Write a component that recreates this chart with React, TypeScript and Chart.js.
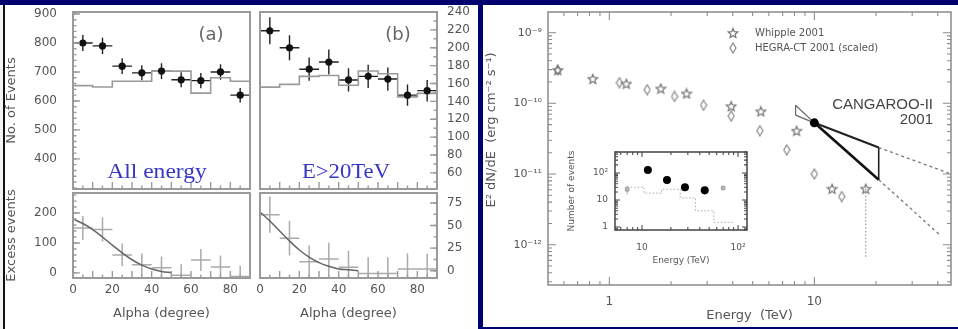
import React, { useEffect, useRef } from 'react';
import { Chart, registerables } from 'chart.js';

Chart.register(...registerables);

const NAVY = '#00006e';
const SANS = "'DejaVu Sans', sans-serif";
const ARIAL = "'Liberation Sans', sans-serif";
const SERIF = "'Liberation Serif', serif";

// ---------------- Left figure: alpha distributions ----------------
const ALPHA_CENTERS = [5, 15, 25, 35, 45, 55, 65, 75, 85];
const ALPHA_HALF_BIN = [5, 5, 5, 5, 5, 5, 5, 5, 5];
const ALPHA_EDGES = [0, 10, 20, 30, 40, 50, 60, 70, 80, 90];
const ALPHA_TICKS = [0, 20, 40, 60, 80];

// (a) All energy
const A_ON = [800, 790, 720, 697, 703, 673, 670, 700, 620];
const A_ON_ERR = [28, 28, 27, 26, 27, 26, 26, 27, 25];
const A_OFF = [653, 648, 668, 668, 703, 703, 627, 680, 668];
const A_EXCESS = [150, 145, 60, 27, 17, -8, 43, 20, -12];
const A_EXCESS_ERR = [40, 40, 38, 38, 38, 37, 37, 38, 36];
const A_FIT_X = [0, 5, 10, 15, 20, 25, 30, 35, 40, 45, 50];
const A_FIT_Y = [180, 165, 145, 120, 93, 67, 44, 26, 13, 5, 1];
const A_UP_TICKS = [400, 500, 600, 700, 800, 900];
const A_LOW_TICKS = [0, 100, 200];

// (b) E > 20 TeV
const B_ON = [219, 200, 176, 184, 164, 168, 165, 147, 152];
const B_ON_ERR = [15, 14, 13, 14, 13, 13, 13, 12, 12];
const B_OFF = [156, 159, 168, 169, 158, 174, 171, 145, 149];
const B_EXCESS = [62, 36, 10, 13, 4, -3, -3, 2, 2];
const B_EXCESS_ERR = [20, 19, 18, 18, 18, 18, 18, 17, 17];
const B_FIT_X = [0, 5, 10, 15, 20, 25, 30, 35, 40, 45, 50];
const B_FIT_Y = [65, 55, 44, 33, 23, 15, 9, 5, 2, 1, 0];
const B_UP_TICKS = [60, 80, 100, 120, 140, 160, 180, 200, 220, 240];
const B_LOW_TICKS = [0, 25, 50, 75];

// ---------------- Right figure: spectrum ----------------
const WHIPPLE_E = [0.56, 0.83, 1.21, 1.78, 2.38, 3.93, 5.48, 8.19, 12.2, 17.8];
const WHIPPLE_F = [2.96e-10, 2.22e-10, 1.9e-10, 1.62e-10, 1.38e-10, 9.1e-11, 7.7e-11, 4.1e-11, 6.2e-12, 6.2e-12];
const HEGRA_E = [0.56, 1.12, 1.53, 2.08, 2.88, 3.93, 5.42, 7.33, 10.0, 13.6];
const HEGRA_F = [2.96e-10, 1.96e-10, 1.56e-10, 1.25e-10, 9.4e-11, 6.6e-11, 4.1e-11, 2.2e-11, 1.0e-11, 4.8e-12];
const UPPER_LIMIT_E = [17.8, 17.8];
const UPPER_LIMIT_F = [6.2e-12, 6.6e-13];
const CANGAROO_E = [10];
const CANGAROO_F = [5.3e-11];
const BOW_E = [8.1, 10, 20.6];
const BOW_STEEP_F = [9.4e-11, 5.3e-11, 8.3e-12];
const BOW_FLAT_F = [6.8e-11, 5.3e-11, 2.37e-11];
const EXT_STEEP_E = [20.6, 41.5];
const EXT_STEEP_F = [8.3e-12, 1.33e-12];
const EXT_FLAT_E = [20.6, 46.4];
const EXT_FLAT_F = [2.37e-11, 1.0e-11];
const MAIN_X_TICKS = [1, 10];
const MAIN_X_LABELS = ['1', '10'];
const MAIN_Y_TICKS = [1e-12, 1e-11, 1e-10, 1e-9];
const MAIN_Y_LABELS = ['10⁻¹²', '10⁻¹¹', '10⁻¹⁰', '10⁻⁹'];

// inset: number of events vs energy
const INSET_E = [11.5, 18.2, 28, 45];
const INSET_N = [129, 55, 30, 23];
const INSET_ERR = [25, 12, 8, 7];
const INSET_GRAY_E = [7, 70];
const INSET_GRAY_N = [25, 28];
const INSET_GRAY_ERR = [9, 0];
const INSET_HIST_E = [7, 10.5, 16, 25, 36, 56, 90];
const INSET_HIST_N = [30, 18, 25, 12, 4, 1.5];
const INSET_X_TICKS = [10, 100];
const INSET_X_LABELS = ['10', '10²'];
const INSET_Y_TICKS = [1, 10, 100];
const INSET_Y_LABELS = ['1', '10', '10²'];

// ---------------- helpers ----------------
const pts = (xs: number[], ys: number[]) => xs.map((x, i) => ({ x, y: ys[i] }));
const steps = (edges: number[], vals: number[]) =>
  edges.map((x, i) => ({ x, y: vals[Math.min(i, vals.length - 1)] }));
function range(a: number, b: number, s: number) {
  const out: number[] = [];
  for (let v = a; v <= b + 1e-9; v += s) out.push(+v.toFixed(6));
  return out;
}
function logTicks(min: number, max: number) {
  const major: number[] = [];
  const minor: number[] = [];
  for (let d = Math.floor(Math.log10(min)); d <= Math.ceil(Math.log10(max)); d++) {
    for (let k = 1; k < 10; k++) {
      const v = k * Math.pow(10, d);
      if (v < min || v > max) continue;
      (k === 1 ? major : minor).push(v);
    }
  }
  return { major, minor };
}
const noPad = (s: any) => {
  s.paddingTop = 0;
  s.paddingBottom = 0;
  s.paddingLeft = 0;
  s.paddingRight = 0;
};
const fixW = (w: number) => (s: any) => { s.width = w; noPad(s); };
const fixH = (h: number) => (s: any) => { s.height = h; noPad(s); };

function makeStar(size: number, color: string) {
  const c = document.createElement('canvas');
  c.width = size;
  c.height = size;
  const g = c.getContext('2d')!;
  g.strokeStyle = color;
  g.lineWidth = 1.2;
  g.beginPath();
  const R = size / 2 - 1;
  for (let k = 0; k < 10; k++) {
    const r = k % 2 === 0 ? R : R * 0.45;
    const a = -Math.PI / 2 + (k * Math.PI) / 5;
    const px = size / 2 + r * Math.cos(a);
    const py = size / 2 + 0.5 + r * Math.sin(a);
    if (k === 0) g.moveTo(px, py);
    else g.lineTo(px, py);
  }
  g.closePath();
  g.stroke();
  return c;
}
function makeDiamond(w: number, h: number, color: string) {
  const c = document.createElement('canvas');
  c.width = w;
  c.height = h;
  const g = c.getContext('2d')!;
  g.strokeStyle = color;
  g.lineWidth = 1.2;
  g.beginPath();
  g.moveTo(w / 2, 1);
  g.lineTo(w - 1, h / 2);
  g.lineTo(w / 2, h - 1);
  g.lineTo(1, h / 2);
  g.closePath();
  g.stroke();
  return c;
}

// ---------------- plugins ----------------
const errorBarPlugin = {
  id: 'errbars',
  beforeDatasetsDraw(chart: any) {
    const { ctx, chartArea: a } = chart;
    chart.data.datasets.forEach((ds: any, i: number) => {
      if (!ds.errX && !ds.errY) return;
      const meta = chart.getDatasetMeta(i);
      const xs = chart.scales[meta.xAxisID];
      const ys = chart.scales[meta.yAxisID];
      ctx.save();
      ctx.beginPath();
      ctx.rect(a.left, a.top, a.right - a.left, a.bottom - a.top);
      ctx.clip();
      ctx.strokeStyle = ds.errColor || '#000';
      ctx.lineWidth = ds.errWidth || 1;
      ctx.beginPath();
      ds.data.forEach((p: any, j: number) => {
        const cx = xs.getPixelForValue(p.x);
        const cy = ys.getPixelForValue(p.y);
        if (ds.errX && ds.errX[j]) {
          ctx.moveTo(xs.getPixelForValue(p.x - ds.errX[j]), cy);
          ctx.lineTo(xs.getPixelForValue(p.x + ds.errX[j]), cy);
        }
        if (ds.errY && ds.errY[j]) {
          const lo = Math.max(p.y - ds.errY[j], ys.min > 0 ? ys.min : -Infinity);
          ctx.moveTo(cx, ys.getPixelForValue(lo));
          ctx.lineTo(cx, ys.getPixelForValue(p.y + ds.errY[j]));
        }
      });
      ctx.stroke();
      ctx.restore();
    });
  },
};

interface AxisTicks {
  major: number[];
  minor: number[];
  sides: string[];
}
function framePlugin(color: string, width: number, xt: AxisTicks | null, yt: AxisTicks | null, majorLen = 7, minorLen = 3.5) {
  return {
    id: 'frame',
    afterDatasetsDraw(chart: any) {
      const { ctx, chartArea: a } = chart;
      const xs = chart.scales.x;
      const ys = chart.scales.y;
      ctx.save();
      ctx.strokeStyle = color;
      ctx.lineWidth = Math.max(1, width * 0.7);
      const tick = (vals: number[], len: number, isX: boolean, sides: string[]) => {
        ctx.beginPath();
        vals.forEach((v) => {
          const p = (isX ? xs : ys).getPixelForValue(v);
          if (isX ? p < a.left - 0.5 || p > a.right + 0.5 : p < a.top - 0.5 || p > a.bottom + 0.5) return;
          sides.forEach((side) => {
            if (side === 'bottom') { ctx.moveTo(p, a.bottom); ctx.lineTo(p, a.bottom - len); }
            if (side === 'top') { ctx.moveTo(p, a.top); ctx.lineTo(p, a.top + len); }
            if (side === 'left') { ctx.moveTo(a.left, p); ctx.lineTo(a.left + len, p); }
            if (side === 'right') { ctx.moveTo(a.right, p); ctx.lineTo(a.right - len, p); }
          });
        });
        ctx.stroke();
      };
      if (xt) { tick(xt.major, majorLen, true, xt.sides); tick(xt.minor, minorLen, true, xt.sides); }
      if (yt) { tick(yt.major, majorLen, false, yt.sides); tick(yt.minor, minorLen, false, yt.sides); }
      ctx.lineWidth = width;
      ctx.strokeRect(a.left, a.top, a.right - a.left, a.bottom - a.top);
      ctx.restore();
    },
  };
}

interface TextItem {
  text: string;
  x: number;
  y: number;
  font: string;
  color: string;
  align?: CanvasTextAlign;
  sx?: number;
}
function textPlugin(items: TextItem[], offX: number, offY: number) {
  return {
    id: 'texts',
    afterDraw(chart: any) {
      const ctx = chart.ctx;
      items.forEach((it) => {
        ctx.save();
        ctx.font = it.font;
        ctx.fillStyle = it.color;
        ctx.textAlign = it.align || 'center';
        ctx.textBaseline = 'middle';
        ctx.translate(it.x - offX, it.y - offY);
        ctx.scale(it.sx || 1, 1);
        ctx.fillText(it.text, 0, 0);
        ctx.restore();
      });
    },
  };
}

// ---------------- configs ----------------
interface PanelSpec {
  left: number;
  top: number;
  width: number;
  height: number;
  padTop: number;
  padLeft: number;
  padRight: number;
  yPos: 'left' | 'right';
  yWidth: number;
  yMin: number;
  yMax: number;
  yTicks: number[];
  yMinor: number[];
  yTitle?: string;
  yPad: number;
  showX: boolean;
  datasets: any[];
  texts: TextItem[];
}

function alphaConfig(p: PanelSpec) {
  const tickFont = { family: SANS, size: 12 };
  return {
    type: 'scatter',
    data: { datasets: p.datasets },
    options: {
      responsive: false,
      animation: false,
      events: [],
      layout: { padding: { top: p.padTop, left: p.padLeft, right: p.padRight, bottom: 0 } },
      plugins: { legend: { display: false }, tooltip: { enabled: false } },
      scales: {
        x: p.showX
          ? {
              type: 'linear',
              min: 0,
              max: 90,
              afterBuildTicks: (s: any) => { s.ticks = ALPHA_TICKS.map((v) => ({ value: v })); },
              afterFit: fixH(51),
              grid: { display: false, drawTicks: false },
              border: { display: false },
              ticks: { padding: 5, font: tickFont, color: '#555', maxRotation: 0, autoSkip: false },
              title: { display: true, text: 'Alpha (degree)', font: { family: SANS, size: 13 }, color: '#555', padding: { top: 0, bottom: 8 } },
            }
          : { type: 'linear', min: 0, max: 90, display: false, afterFit: fixH(0) },
        y: {
          type: 'linear',
          position: p.yPos,
          min: p.yMin,
          max: p.yMax,
          afterBuildTicks: (s: any) => { s.ticks = p.yTicks.map((v) => ({ value: v })); },
          afterFit: fixW(p.yWidth),
          grid: { display: false, drawTicks: false },
          border: { display: false },
          ticks: { padding: p.yPad, font: tickFont, color: '#555', autoSkip: false },
          title: p.yTitle
            ? { display: true, text: p.yTitle, font: { family: SANS, size: 13 }, color: '#555', padding: { top: 4, bottom: 0 } }
            : { display: false },
        },
      },
    },
    plugins: [
      errorBarPlugin,
      framePlugin(
        '#9a9a9a',
        2,
        { major: ALPHA_EDGES, minor: range(5, 85, 10), sides: ['bottom'] },
        { major: p.yTicks, minor: p.yMinor, sides: [p.yPos] },
      ),
      textPlugin(p.texts, p.left, p.top),
    ],
  };
}

function onDatasets(on: number[], err: number[], off: number[]) {
  return [
    {
      data: pts(ALPHA_CENTERS, on),
      pointRadius: 3.6,
      pointBackgroundColor: '#111',
      pointBorderWidth: 0,
      showLine: false,
      errX: ALPHA_HALF_BIN,
      errY: err,
      errColor: '#222',
      errWidth: 1.4,
    },
    {
      type: 'line',
      data: steps(ALPHA_EDGES, off),
      stepped: 'before',
      borderColor: '#9a9a9a',
      borderWidth: 1.6,
      pointRadius: 0,
      fill: false,
    },
  ];
}
function excessDatasets(ex: number[], err: number[], fx: number[], fy: number[]) {
  return [
    {
      type: 'line',
      data: pts(fx, fy),
      borderColor: '#666',
      borderWidth: 1.5,
      pointRadius: 0,
      tension: 0.35,
      fill: false,
    },
    {
      data: pts(ALPHA_CENTERS, ex),
      pointRadius: 0,
      showLine: false,
      errX: ALPHA_HALF_BIN,
      errY: err,
      errColor: '#aaa',
      errWidth: 1.5,
    },
  ];
}

const PANEL_A_UP: PanelSpec = {
  left: 0, top: 0, width: 260, height: 193, padTop: 12, padLeft: 0, padRight: 10,
  yPos: 'left', yWidth: 73, yMin: 296, yMax: 907, yTicks: A_UP_TICKS, yMinor: range(300, 900, 20), yTitle: 'No. of Events', yPad: 16,
  showX: false, datasets: onDatasets(A_ON, A_ON_ERR, A_OFF),
  texts: [
    { text: '(a)', x: 211, y: 35, font: `18px ${SANS}`, color: '#666' },
    { text: 'All energy', x: 157, y: 172, font: `21px ${SERIF}`, color: '#3535c8', sx: 1.12 },
  ],
};
const PANEL_A_LOW: PanelSpec = {
  left: 0, top: 183, width: 260, height: 146, padTop: 10, padLeft: 0, padRight: 10,
  yPos: 'left', yWidth: 73, yMin: -17, yMax: 267, yTicks: A_LOW_TICKS, yMinor: range(0, 260, 20), yTitle: 'Excess events', yPad: 16,
  showX: true, datasets: excessDatasets(A_EXCESS, A_EXCESS_ERR, A_FIT_X, A_FIT_Y), texts: [],
};
const PANEL_B_UP: PanelSpec = {
  left: 255, top: 0, width: 223, height: 193, padTop: 12, padLeft: 5, padRight: 0,
  yPos: 'right', yWidth: 41, yMin: 42, yMax: 240, yTicks: B_UP_TICKS, yMinor: range(50, 240, 10), yPad: 10,
  showX: false, datasets: onDatasets(B_ON, B_ON_ERR, B_OFF),
  texts: [
    { text: '(b)', x: 398, y: 35, font: `18px ${SANS}`, color: '#666' },
    { text: 'E>20TeV', x: 346, y: 172, font: `21px ${SERIF}`, color: '#3535c8', sx: 1.08 },
  ],
};
const PANEL_B_LOW: PanelSpec = {
  left: 255, top: 183, width: 223, height: 146, padTop: 10, padLeft: 5, padRight: 0,
  yPos: 'right', yWidth: 41, yMin: -8, yMax: 86, yTicks: B_LOW_TICKS, yMinor: range(0, 85, 12.5), yPad: 10,
  showX: true, datasets: excessDatasets(B_EXCESS, B_EXCESS_ERR, B_FIT_X, B_FIT_Y), texts: [],
};

const MAIN_BOX = { left: 484, top: 5, width: 474, height: 321 };
const INSET_BOX = { left: 562, top: 146, width: 190, height: 120 };

function mainConfig(star: HTMLCanvasElement, diamond: HTMLCanvasElement) {
  const xMin = 0.502, xMax = 46.4, yMin = 2.69e-13, yMax = 1.96e-9;
  const xl = logTicks(xMin, xMax);
  const yl = logTicks(yMin, yMax);
  const legendPlugin = {
    id: 'legendDraw',
    afterDraw(chart: any) {
      const ctx = chart.ctx;
      const ox = MAIN_BOX.left, oy = MAIN_BOX.top;
      const entries = [chart.data.datasets[7], chart.data.datasets[8]];
      const ys = [33, 48];
      entries.forEach((ds: any, i: number) => {
        const img = ds.pointStyle as HTMLCanvasElement;
        ctx.drawImage(img, 733 - ox - img.width / 2, ys[i] - oy - img.height / 2);
        ctx.save();
        ctx.font = `10px ${SANS}`;
        ctx.fillStyle = '#555';
        ctx.textAlign = 'left';
        ctx.textBaseline = 'middle';
        ctx.fillText(ds.label, 755 - ox, ys[i] - oy);
        ctx.restore();
      });
    },
  };
  const seg = (xs: number[], ys: number[], color: string, width: number, dash: number[] = []) => ({
    type: 'line',
    data: pts(xs, ys),
    borderColor: color,
    borderWidth: width,
    borderDash: dash,
    pointRadius: 0,
    fill: false,
    showLine: true,
  });
  return {
    type: 'scatter',
    data: {
      datasets: [
        { label: 'CANGAROO-II 2001', data: pts(CANGAROO_E, CANGAROO_F), pointRadius: 4.5, pointBackgroundColor: '#000', pointBorderWidth: 0, showLine: false },
        seg(BOW_E.slice(1), BOW_STEEP_F.slice(1), '#111', 2.6),
        seg(BOW_E.slice(1), BOW_FLAT_F.slice(1), '#222', 2.2),
        seg(BOW_E.slice(0, 2), BOW_STEEP_F.slice(0, 2), '#666', 1.2),
        seg(BOW_E.slice(0, 2), BOW_FLAT_F.slice(0, 2), '#666', 1.2),
        seg([BOW_E[0], BOW_E[0]], [BOW_STEEP_F[0], BOW_FLAT_F[0]], '#666', 1.2),
        seg([BOW_E[2], BOW_E[2]], [BOW_FLAT_F[2], BOW_STEEP_F[2]], '#222', 1.6),
        { label: 'Whipple 2001', data: pts(WHIPPLE_E, WHIPPLE_F), pointStyle: star, pointRadius: 6, showLine: false },
        { label: 'HEGRA-CT 2001 (scaled)', data: pts(HEGRA_E, HEGRA_F), pointStyle: diamond, pointRadius: 6, showLine: false },
        seg(EXT_STEEP_E, EXT_STEEP_F, '#777', 1.3, [3, 3]),
        seg(EXT_FLAT_E, EXT_FLAT_F, '#777', 1.3, [3, 3]),
        seg(UPPER_LIMIT_E, UPPER_LIMIT_F, '#999', 1.2, [1.5, 2]),
      ],
    },
    options: {
      responsive: false,
      animation: false,
      events: [],
      layout: { padding: { top: 2, right: 3, left: 0, bottom: 0 } },
      plugins: { legend: { display: false }, tooltip: { enabled: false } },
      scales: {
        x: {
          type: 'logarithmic',
          min: xMin,
          max: xMax,
          afterBuildTicks: (s: any) => { s.ticks = MAIN_X_TICKS.map((v) => ({ value: v })); },
          afterFit: fixH(41),
          grid: { display: false, drawTicks: false },
          border: { display: false },
          ticks: { padding: 10, font: { family: SANS, size: 12 }, color: '#555', maxRotation: 0, autoSkip: false, callback: (_v: any, i: number) => MAIN_X_LABELS[i] },
          title: { display: true, text: 'Energy  (TeV)', font: { family: SANS, size: 13 }, color: '#555', padding: { top: 0, bottom: 3 } },
        },
        y: {
          type: 'logarithmic',
          min: yMin,
          max: yMax,
          afterBuildTicks: (s: any) => { s.ticks = MAIN_Y_TICKS.map((v) => ({ value: v })); },
          afterFit: fixW(64),
          grid: { display: false, drawTicks: false },
          border: { display: false },
          ticks: { padding: 6, font: { family: SANS, size: 11 }, color: '#555', autoSkip: false, callback: (_v: any, i: number) => MAIN_Y_LABELS[i] },
          title: { display: true, text: '         E² dN/dE  (erg cm⁻² s⁻¹)', font: { family: SANS, size: 13 }, color: '#555', padding: { top: 0, bottom: 0 } },
        },
      },
    },
    plugins: [
      framePlugin('#8a8a8a', 1.5, { ...xl, sides: ['bottom', 'top'] }, { ...yl, sides: ['left', 'right'] }, 8, 4),
      legendPlugin,
      textPlugin(
        [
          { text: 'CANGAROO-II', x: 933, y: 105, font: `15px ${ARIAL}`, color: '#444', align: 'right' },
          { text: '2001', x: 933, y: 120, font: `15px ${ARIAL}`, color: '#444', align: 'right' },
        ],
        MAIN_BOX.left,
        MAIN_BOX.top,
      ),
    ],
  };
}

function insetConfig() {
  const xMin = 5.23, xMax = 124, yMin = 0.78, yMax = 600;
  const xl = logTicks(xMin, xMax);
  const yl = logTicks(yMin, yMax);
  const whiteBg = {
    id: 'whiteBg',
    beforeDraw(chart: any) {
      const { ctx, chartArea: a } = chart;
      ctx.save();
      ctx.fillStyle = '#fff';
      ctx.fillRect(a.left, a.top, a.right - a.left, a.bottom - a.top);
      ctx.restore();
    },
  };
  return {
    type: 'scatter',
    data: {
      datasets: [
        { data: pts(INSET_E, INSET_N), pointRadius: 4, pointBackgroundColor: '#000', pointBorderWidth: 0, showLine: false, errY: INSET_ERR, errColor: '#333', errWidth: 1 },
        { data: pts(INSET_GRAY_E, INSET_GRAY_N), pointRadius: 2.5, pointStyle: 'rect', pointBackgroundColor: '#bbb', pointBorderColor: '#999', pointBorderWidth: 1, showLine: false, errY: INSET_GRAY_ERR, errColor: '#aaa', errWidth: 1 },
        { type: 'line', data: steps(INSET_HIST_E, INSET_HIST_N), stepped: 'before', borderColor: '#aaa', borderWidth: 1, borderDash: [1.5, 2], pointRadius: 0, fill: false },
      ],
    },
    options: {
      responsive: false,
      animation: false,
      events: [],
      layout: { padding: { top: 6, right: 5, left: 0, bottom: 0 } },
      plugins: { legend: { display: false }, tooltip: { enabled: false } },
      scales: {
        x: {
          type: 'logarithmic',
          min: xMin,
          max: xMax,
          afterBuildTicks: (s: any) => { s.ticks = INSET_X_TICKS.map((v) => ({ value: v })); },
          afterFit: fixH(36),
          grid: { display: false, drawTicks: false },
          border: { display: false },
          ticks: { padding: 12, font: { family: SANS, size: 9 }, color: '#555', maxRotation: 0, autoSkip: false, callback: (_v: any, i: number) => INSET_X_LABELS[i] },
          title: { display: true, text: 'Energy (TeV)', font: { family: SANS, size: 9 }, color: '#555', padding: { top: 0, bottom: 0 } },
        },
        y: {
          type: 'logarithmic',
          min: yMin,
          max: yMax,
          afterBuildTicks: (s: any) => { s.ticks = INSET_Y_TICKS.map((v) => ({ value: v })); },
          afterFit: fixW(53),
          grid: { display: false, drawTicks: false },
          border: { display: false },
          ticks: { padding: 7, font: { family: SANS, size: 9 }, color: '#555', autoSkip: false, callback: (_v: any, i: number) => INSET_Y_LABELS[i] },
          title: { display: true, text: 'Number of events', font: { family: SANS, size: 9 }, color: '#555', padding: { top: 4, bottom: 0 } },
        },
      },
    },
    plugins: [
      whiteBg,
      errorBarPlugin,
      framePlugin('#444', 1.5, { ...xl, sides: ['bottom', 'top'] }, { ...yl, sides: ['left', 'right'] }, 5, 3),
    ],
  };
}

// ---------------- components ----------------
function ChartBox(props: { left: number; top: number; width: number; height: number; make: () => any }) {
  const ref = useRef<HTMLCanvasElement>(null);
  useEffect(() => {
    const chart = new Chart(ref.current as HTMLCanvasElement, props.make());
    return () => chart.destroy();
  }, []);
  const { left, top, width, height } = props;
  return (
    <canvas
      ref={ref}
      width={width}
      height={height}
      style={{ position: 'absolute', left, top, width, height }}
    />
  );
}

export default function App() {
  const abs = (l: number, t: number, w: number, h: number, bg: string): React.CSSProperties => ({
    position: 'absolute', left: l, top: t, width: w, height: h, background: bg,
  });
  const panels = [PANEL_A_UP, PANEL_A_LOW, PANEL_B_UP, PANEL_B_LOW];
  return (
    <div style={{ position: 'fixed', left: 0, top: 0, width: 958, height: 329, background: NAVY, overflow: 'hidden' }}>
      <div style={abs(0, 5, 3, 324, '#f4f4f4')} />
      <div style={abs(3, 5, 2, 324, '#111')} />
      <div style={abs(5, 5, 473, 324, '#fff')} />
      <div style={abs(483, 5, 475, 322, '#fff')} />
      {panels.map((p, i) => (
        <ChartBox key={i} left={p.left} top={p.top} width={p.width} height={p.height} make={() => alphaConfig(p)} />
      ))}
      <ChartBox
        {...MAIN_BOX}
        make={() => mainConfig(makeStar(12, '#777'), makeDiamond(8, 12, '#888'))}
      />
      <ChartBox {...INSET_BOX} make={() => insetConfig()} />
    </div>
  );
}
